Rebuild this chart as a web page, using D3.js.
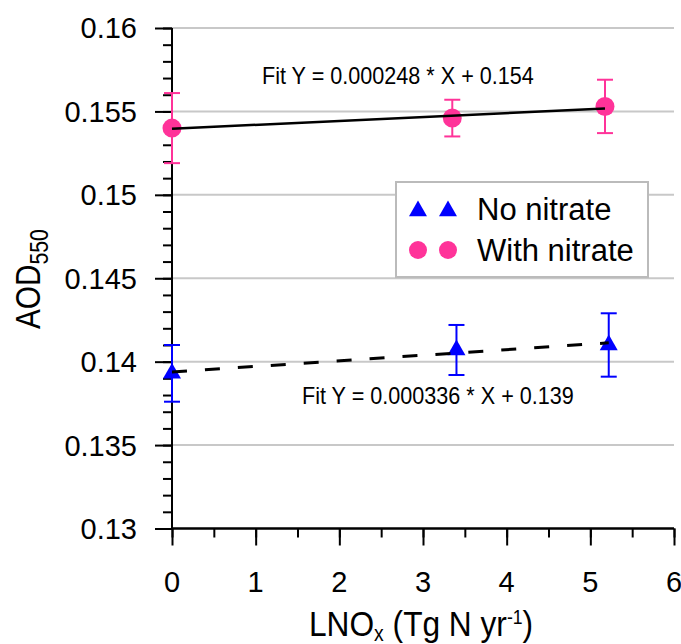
<!DOCTYPE html>
<html>
<head>
<meta charset="utf-8">
<script src="https://cdn.jsdelivr.net/npm/d3@7"></script>
<style>
  body { margin: 0; background: #fff; }
  svg { display: block; }
</style>
</head>
<body>
<script>
// values
const noNitrateX = [0, 3.4, 5.22];
const noNitrateY = [0.1393, 0.1407, 0.1410];
const noNitrateErr = [0.0017, 0.0015, 0.0019];

const withNitrateX = [0, 3.35, 5.175];
const withNitrateY = [0.1540, 0.1546, 0.1553];
const withNitrateErr = [0.0021, 0.0011, 0.0016];

// fit line end points
const fitNoNitrate = [[0, 0.13938], [5.22, 0.14113]];
const fitWithNitrate = [[0, 0.15396], [5.175, 0.15518]];

const xTicks = [0, 1, 2, 3, 4, 5, 6];
const yTicks = [0.13, 0.135, 0.14, 0.145, 0.15, 0.155, 0.16];
const yTickLabels = ["0.13", "0.135", "0.14", "0.145", "0.15", "0.155", "0.16"];

const width = 681, height = 644;
const pink = "#ff3399", blue = "#0000ff";
const font = "Liberation Sans, Arial, sans-serif";

const svg = d3.select("body").append("svg").attr("width", width).attr("height", height);

const x = d3.scaleLinear().domain([0, 6]).range([172, 674]);
const y = d3.scaleLinear().domain([0.13, 0.16]).range([528.5, 28]);

// gridlines
svg.append("g").selectAll("line").data(yTicks.slice(1)).join("line")
  .attr("x1", x(0)).attr("x2", x(6))
  .attr("y1", d => y(d)).attr("y2", d => y(d))
  .attr("stroke", "#c8c8c8").attr("stroke-width", 2);

// y axis
const yMinor = d3.range(130, 161).map(d => d / 1000);
const yAxis = svg.append("g").attr("transform", `translate(${x(0)},0)`);
yAxis.call(d3.axisLeft(y).tickValues(yMinor).tickSize(9).tickFormat(""));
yAxis.append("g").call(d3.axisLeft(y).tickValues(yTicks).tickSize(17).tickFormat(""));
yAxis.selectAll("path, line").attr("stroke", "#000").attr("stroke-width", 2);
yAxis.selectAll(".domain").attr("d", `M0,${y(0.13)}V${y(0.16)}`);

svg.append("g").selectAll("text").data(yTicks).join("text")
  .attr("x", 137).attr("y", d => y(d)).attr("dy", "0.36em")
  .attr("text-anchor", "end")
  .style("font-family", font).style("font-size", "29px")
  .text((d, i) => yTickLabels[i]);

// x axis
const xMinor = d3.range(0, 13).map(d => d / 2);
const xAxis = svg.append("g").attr("transform", `translate(0,${y(0.13)})`);
xAxis.call(d3.axisBottom(x).tickValues(xMinor).tickSize(9).tickFormat(""));
xAxis.append("g").call(d3.axisBottom(x).tickValues(xTicks).tickSize(17).tickFormat(""));
xAxis.selectAll("path, line").attr("stroke", "#000").attr("stroke-width", 2);
xAxis.selectAll(".domain").attr("d", `M${x(0)},0H${x(6)}`);

svg.append("g").selectAll("text").data(xTicks).join("text")
  .attr("x", d => x(d)).attr("y", 592)
  .attr("text-anchor", "middle")
  .style("font-family", font).style("font-size", "29px")
  .text(d => d);

// axis titles (condensed horizontally like the original narrow face)
const xl = svg.append("text").attr("transform", "translate(309,636) scale(0.88,1)")
  .style("font-family", font).style("font-size", "36px");
xl.append("tspan").text("LNO");
xl.append("tspan").attr("dy", 5).style("font-size", "22px").text("x");
xl.append("tspan").attr("dy", -5).text(" (Tg N yr");
xl.append("tspan").attr("dy", -12).style("font-size", "20px").text("-1");
xl.append("tspan").attr("dy", 12).text(")");

const yl = svg.append("text").attr("transform", "translate(40,329) rotate(-90) scale(0.85,1)")
  .style("font-family", font).style("font-size", "35px");
yl.append("tspan").text("AOD");
yl.append("tspan").attr("dy", 8).style("font-size", "25px").text("550");

// error bars
function errorBars(xs, ys, errs, color) {
  const g = svg.append("g").attr("stroke", color).attr("stroke-width", 2);
  xs.forEach((xv, i) => {
    const cx = x(xv), top = y(ys[i] + errs[i]), bot = y(ys[i] - errs[i]);
    g.append("line").attr("x1", cx).attr("x2", cx).attr("y1", top).attr("y2", bot);
    g.append("line").attr("x1", cx - 8).attr("x2", cx + 8).attr("y1", top).attr("y2", top);
    g.append("line").attr("x1", cx - 8).attr("x2", cx + 8).attr("y1", bot).attr("y2", bot);
  });
}
errorBars(noNitrateX, noNitrateY, noNitrateErr, blue);
errorBars(withNitrateX, withNitrateY, withNitrateErr, pink);

// markers
const tri = d3.symbol().type(d3.symbolTriangle).size(140);
svg.append("g").selectAll("path").data(noNitrateX).join("path")
  .attr("d", tri)
  .attr("transform", (d, i) => `translate(${x(d)},${y(noNitrateY[i])})`)
  .attr("fill", blue);
svg.append("g").selectAll("circle").data(withNitrateX).join("circle")
  .attr("cx", d => x(d)).attr("cy", (d, i) => y(withNitrateY[i])).attr("r", 9.5)
  .attr("fill", pink);

// fit lines
const line = d3.line().x(d => x(d[0])).y(d => y(d[1]));
svg.append("path").attr("d", line(fitWithNitrate))
  .attr("stroke", "#000").attr("stroke-width", 2.5).attr("fill", "none");
svg.append("path").attr("d", line(fitNoNitrate))
  .attr("stroke", "#000").attr("stroke-width", 3).attr("fill", "none")
  .attr("stroke-dasharray", "15,18");

// fit labels
svg.append("text").attr("transform", "translate(262,84) scale(0.92,1)")
  .style("font-family", font).style("font-size", "23.5px")
  .text("Fit Y = 0.000248 * X + 0.154");
svg.append("text").attr("transform", "translate(302,404) scale(0.92,1)")
  .style("font-family", font).style("font-size", "23.5px")
  .text("Fit Y = 0.000336 * X + 0.139");

// legend
const lg = svg.append("g");
lg.append("rect").attr("x", 396).attr("y", 182).attr("width", 252).attr("height", 95)
  .attr("fill", "#fff").attr("stroke", "#bbb").attr("stroke-width", 2);
[418, 448].forEach(lx => {
  lg.append("path").attr("d", tri).attr("transform", `translate(${lx},211)`).attr("fill", blue);
  lg.append("circle").attr("cx", lx).attr("cy", 250).attr("r", 9).attr("fill", pink);
});
lg.append("text").attr("x", 477).attr("y", 220)
  .style("font-family", font).style("font-size", "31px")
  .text("No nitrate");
lg.append("text").attr("x", 477).attr("y", 261)
  .style("font-family", font).style("font-size", "31px")
  .text("With nitrate");
</script>
</body>
</html>
